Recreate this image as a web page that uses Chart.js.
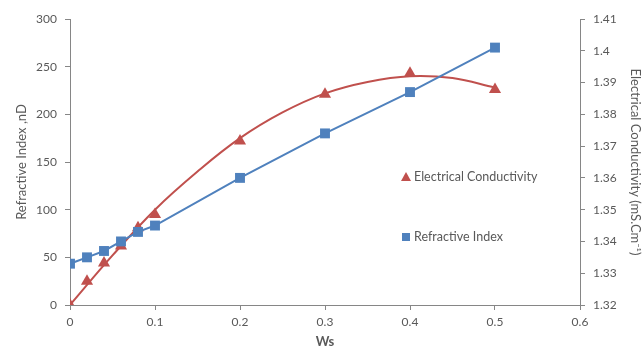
<!DOCTYPE html>
<html>
<head>
<meta charset="utf-8">
<script src="https://cdn.jsdelivr.net/npm/chart.js@4.4.1/dist/chart.umd.min.js"></script>
<style>
  html, body { margin: 0; padding: 0; background: #fff; }
  #wrap { width: 642px; height: 350px; }
</style>
</head>
<body>
<div id="wrap"><canvas id="grafico" width="642" height="350"></canvas></div>
<script>
// Ws values
const ws = [0, 0.02, 0.04, 0.06, 0.08, 0.1, 0.2, 0.3, 0.4, 0.5];
// Electrical conductivity (left axis)
const conductividad = [0, 25, 44, 62, 81, 95, 172, 221, 243, 226];
// Refractive index (right axis)
const refraccion = [1.333, 1.335, 1.337, 1.340, 1.343, 1.345, 1.360, 1.374, 1.387, 1.401];
// Trend curve for conductivity
const tendenciaX = [0, 0.05, 0.1, 0.15, 0.2, 0.25, 0.3, 0.35, 0.4, 0.45, 0.5];
const tendenciaY = [0, 52, 100, 140, 175, 202, 222, 234, 240, 238, 228];

const ROJO = '#c0504d';
const AZUL = '#4f81bd';
const GRIS = '#595959';
const EJE = '#868686';
const FUENTE = 'Lato, "Open Sans", sans-serif';

const puntos = (xs, ys) => xs.map((x, i) => ({ x: x, y: ys[i] }));

// legend drawn inside the plot area
const leyendaPlugin = {
    id: 'leyenda',
    afterDraw(chart) {
        const ctx = chart.ctx;
        ctx.save();
        ctx.font = '12.5px ' + FUENTE;
        ctx.textBaseline = 'middle';
        ctx.textAlign = 'left';

        // triangle
        ctx.fillStyle = ROJO;
        ctx.beginPath();
        ctx.moveTo(406, 172);
        ctx.lineTo(411, 181);
        ctx.lineTo(401, 181);
        ctx.closePath();
        ctx.fill();
        ctx.fillStyle = GRIS;
        ctx.fillText('Electrical Conductivity', 414, 177);

        // square
        ctx.fillStyle = AZUL;
        ctx.fillRect(402, 233, 8, 8);
        ctx.fillStyle = GRIS;
        ctx.fillText('Refractive Index', 414, 237);
        ctx.restore();
    }
};

const ctx = document.getElementById('grafico').getContext('2d');

new Chart(ctx, {
    type: 'scatter',
    data: {
        datasets: [
            {
                label: 'Refractive Index',
                data: puntos(ws, refraccion),
                yAxisID: 'y1',
                showLine: true,
                borderColor: AZUL,
                borderWidth: 2,
                tension: 0,
                pointStyle: 'rect',
                pointRadius: 7,
                pointBackgroundColor: AZUL,
                pointBorderColor: AZUL,
                pointBorderWidth: 0
            },
            {
                label: 'Electrical Conductivity',
                data: puntos(ws, conductividad),
                yAxisID: 'y',
                showLine: false,
                pointStyle: 'triangle',
                pointRadius: 7,
                pointBackgroundColor: ROJO,
                pointBorderColor: ROJO,
                pointBorderWidth: 0
            },
            {
                label: 'Trend',
                data: puntos(tendenciaX, tendenciaY),
                yAxisID: 'y',
                showLine: true,
                borderColor: ROJO,
                borderWidth: 2,
                tension: 0.4,
                pointRadius: 0
            }
        ]
    },
    options: {
        responsive: false,
        animation: false,
        layout: { padding: { top: 19, bottom: 0, left: 0, right: 0 } },
        plugins: {
            legend: { display: false },
            tooltip: { enabled: false }
        },
        scales: {
            x: {
                type: 'linear',
                min: 0,
                max: 0.6,
                afterFit(s) { s.height = 45; },
                ticks: {
                    stepSize: 0.1,
                    color: GRIS,
                    font: { family: FUENTE, size: 12 },
                    padding: 5,
                    callback: v => parseFloat(v.toFixed(1)).toString()
                },
                grid: { drawOnChartArea: false, drawTicks: true, tickLength: 5, color: EJE },
                border: { color: EJE, width: 1 },
                title: {
                    display: true,
                    text: 'Ws',
                    color: GRIS,
                    font: { family: FUENTE, size: 13, weight: 'bold' },
                    padding: 0
                }
            },
            y: {
                position: 'left',
                min: 0,
                max: 300,
                afterFit(s) { s.width = 70; },
                ticks: {
                    stepSize: 50,
                    color: GRIS,
                    font: { family: FUENTE, size: 12 },
                    padding: 8
                },
                grid: { drawOnChartArea: false, drawTicks: true, tickLength: 5, color: EJE },
                border: { color: EJE, width: 1 },
                title: {
                    display: true,
                    text: 'Refractive Index ,nD',
                    color: GRIS,
                    font: { family: FUENTE, size: 13 },
                    padding: { top: 14, bottom: 0 }
                }
            },
            y1: {
                position: 'right',
                min: 1.32,
                max: 1.41,
                afterFit(s) { s.width = 62; },
                ticks: {
                    stepSize: 0.01,
                    color: GRIS,
                    font: { family: FUENTE, size: 12 },
                    padding: 8,
                    callback: v => parseFloat(v.toFixed(2)).toString()
                },
                grid: { drawOnChartArea: false, drawTicks: true, tickLength: 5, color: EJE },
                border: { color: EJE, width: 1 },
                title: {
                    display: true,
                    text: 'Electrical Conductivity (mS.Cm⁻¹)',
                    color: GRIS,
                    font: { family: FUENTE, size: 13, lineHeight: 1.0 },
                    padding: 0
                }
            }
        }
    },
    plugins: [leyendaPlugin]
});
</script>
</body>
</html>
